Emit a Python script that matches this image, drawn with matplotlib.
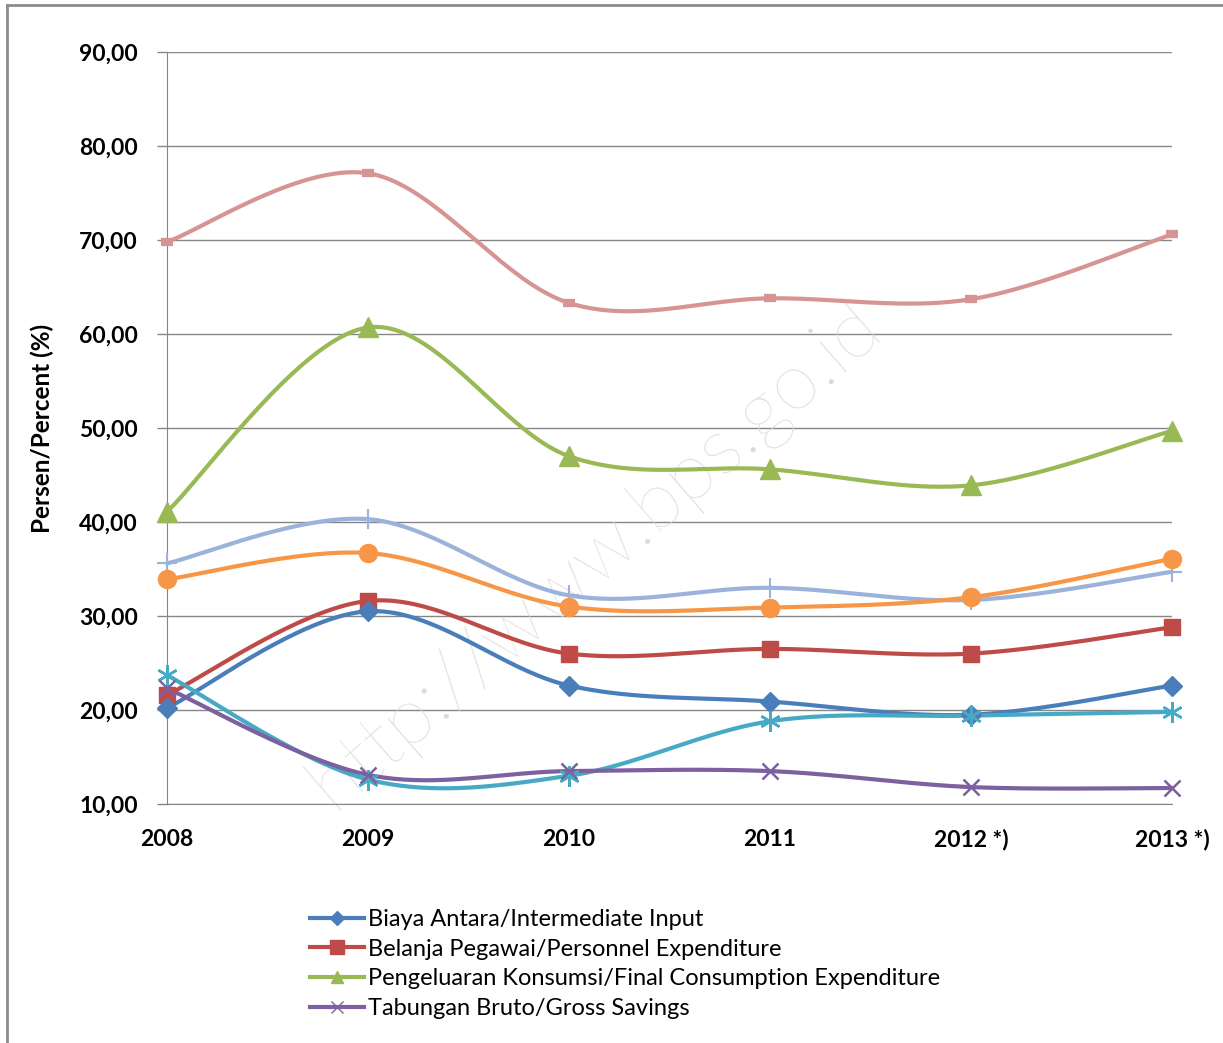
import numpy as np
import matplotlib
matplotlib.use("Agg")
from matplotlib import pyplot as plt
from matplotlib.lines import Line2D

plt.rcParams['font.family'] = ['Lato', 'DejaVu Sans']

years = ["2008", "2009", "2010", "2011", "2012 *)", "2013 *)"]

# persen / percent
biaya_antara = [20.2, 30.5, 22.6, 20.9, 19.5, 22.6]
belanja_pegawai = [21.6, 31.6, 26.0, 26.5, 26.0, 28.8]
konsumsi = [41.1, 60.7, 47.0, 45.6, 43.9, 49.7]
tabungan = [22.3, 13.1, 13.5, 13.5, 11.8, 11.7]
seri_cyan = [23.7, 12.6, 13.0, 18.8, 19.4, 19.8]
seri_oranye = [33.9, 36.7, 31.0, 30.9, 32.0, 36.1]
seri_biru_muda = [35.6, 40.3, 32.2, 33.0, 31.7, 34.7]
seri_merah_muda = [69.8, 77.1, 63.3, 63.8, 63.7, 70.6]

legend_names = ["Biaya Antara/Intermediate Input",
                "Belanja Pegawai/Personnel Expenditure",
                "Pengeluaran Konsumsi/Final Consumption Expenditure",
                "Tabungan Bruto/Gross Savings"]


def smooth(y, n=40):
    # bezier smoothing like excel "smoothed line"
    y = np.asarray(y, float)
    x = np.arange(len(y), dtype=float)
    pts = np.column_stack([x, y])
    out = []
    for i in range(len(pts) - 1):
        p0 = pts[i - 1] if i > 0 else pts[i]
        p1 = pts[i]
        p2 = pts[i + 1]
        p3 = pts[i + 2] if i + 2 < len(pts) else pts[i + 1]
        c1 = p1 + (p2 - p0) / 6
        c2 = p2 - (p3 - p1) / 6
        t = np.linspace(0, 1, n)[:, None]
        seg = ((1 - t) ** 3) * p1 + 3 * ((1 - t) ** 2) * t * c1 + 3 * (1 - t) * t ** 2 * c2 + t ** 3 * p2
        out.append(seg if i == 0 else seg[1:])
    out = np.vstack(out)
    return out[:, 0], out[:, 1]


fig = plt.figure(figsize=(12.23, 10.43), dpi=100)
ax = fig.add_axes([167 / 1223, 1 - 804 / 1043, (1172 - 167) / 1223, (804 - 52) / 1043])

xs = np.arange(len(years))

series = [
    (seri_merah_muda, "#d79494", dict(marker="_", ms=9, mew=6), None),
    (seri_biru_muda, "#9bb3db", dict(marker="+", ms=15, mew=1.5), None),
    (konsumsi, "#98b954", dict(marker="^", ms=14), legend_names[2]),
    (seri_oranye, "#f79646", dict(marker="o", ms=13), None),
    (belanja_pegawai, "#be4b48", dict(marker="s", ms=12), legend_names[1]),
    (biaya_antara, "#4a7ebb", dict(marker="D", ms=10), legend_names[0]),
    (seri_cyan, "#46aac5", dict(marker=(6, 2, 0), ms=15, mew=1.8), None),
    (tabungan, "#7d60a0", dict(marker="x", ms=12, mew=1.8), legend_names[3]),
]

for vals, col, mk, name in series:
    sx, sy = smooth(vals)
    ax.plot(sx, sy, color=col, lw=3, solid_capstyle="round", clip_on=False, zorder=3)
    ax.plot(xs, vals, linestyle="none", color=col, mec=col, mfc=col, clip_on=False, zorder=4, **mk)

ax.set_xlim(0, 5)
ax.set_ylim(10, 90)
ax.set_yticks(np.arange(10, 91, 10))
ax.set_yticklabels([("%.2f" % v).replace(".", ",") for v in np.arange(10, 91, 10)],
                   fontsize=16.5, fontweight="bold")
ax.set_xticks(xs)
ax.set_xticklabels(years, fontsize=16.5, fontweight="bold")
ax.tick_params(axis="y", length=7, color="#868686", width=1, pad=14)
ax.tick_params(axis="x", length=0, pad=18)
ax.grid(axis="y", color="#868686", lw=1)
ax.set_axisbelow(True)
for s in ["top", "right"]:
    ax.spines[s].set_visible(False)
ax.spines["left"].set_color("#868686")
ax.spines["bottom"].set_color("#868686")
ax.set_ylabel("Persen/Percent (%)", fontsize=17.5, fontweight="bold", labelpad=18)

# watermark
ax.text(2.13, 36.5, "http://www.bps.go.id", fontsize=58, color="#dadada", rotation=41,
        ha="center", va="center", zorder=1, fontweight="light")

# legend
handles = [
    Line2D([], [], color="#4a7ebb", lw=3, marker="D", ms=7),
    Line2D([], [], color="#be4b48", lw=3, marker="s", ms=10),
    Line2D([], [], color="#98b954", lw=3, marker="^", ms=9),
    Line2D([], [], color="#7d60a0", lw=3, marker="x", ms=8, mew=1),
]
fig.legend(handles, legend_names, loc="upper left", bbox_to_anchor=(310 / 1223, 1 - 909 / 1043),
           frameon=False, fontsize=17, handlelength=2.3, handletextpad=0.15,
           labelspacing=0.37, borderaxespad=0, borderpad=0)

# chart border
fig.add_artist(Line2D([7 / 1223, 7 / 1223], [0, 1 - 5 / 1043], color="#8c8c8c", lw=2))
fig.add_artist(Line2D([7 / 1223, 1], [1 - 5 / 1043, 1 - 5 / 1043], color="#8c8c8c", lw=2))

fig.savefig("out.png", dpi=100)
